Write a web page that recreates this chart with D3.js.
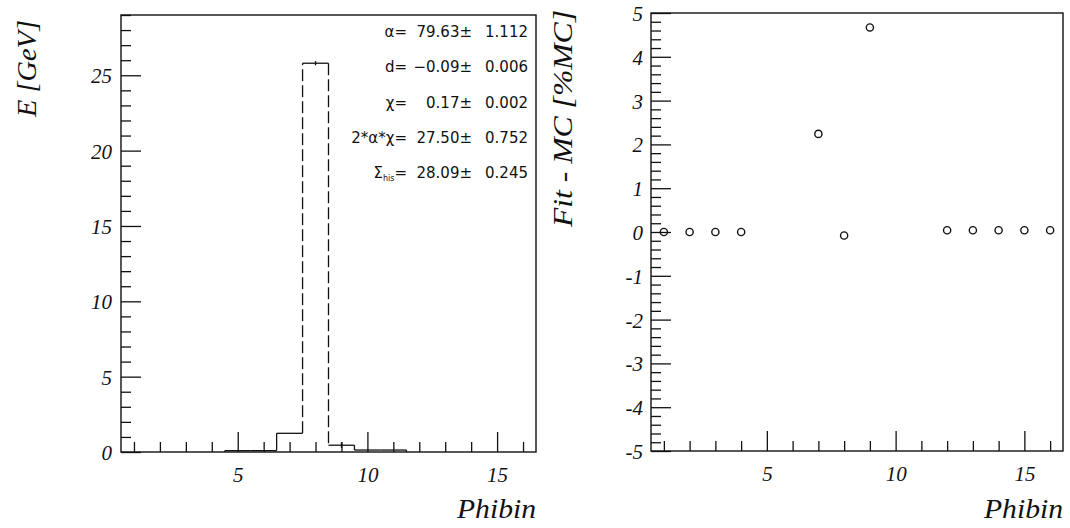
<!DOCTYPE html>
<html>
<head>
<meta charset="utf-8">
<script src="https://cdn.jsdelivr.net/npm/d3@7"></script>
<style>
  html, body { margin: 0; padding: 0; background: #fff; }
  svg { display: block; }
  .serif { font-family: "Liberation Serif", "Times New Roman", Times, serif; font-style: italic; }
</style>
</head>
<body>
<svg id="chart" width="1070" height="528"></svg>
<script>
// ---------------- DATA ----------------
const bins = [1, 2, 3, 4, 5, 6, 7, 8, 9, 10, 11, 12, 13, 14, 15, 16];
const energy = [0, 0, 0, 0, 0.09, 0.09, 1.24, 25.8, 0.45, 0.13, 0.13, 0, 0, 0, 0, 0];
const energyErr = [0, 0, 0, 0, 0, 0, 0, 0.14, 0.18, 0, 0, 0, 0, 0, 0, 0];

const resBins = [1, 2, 3, 4, 7, 8, 9, 12, 13, 14, 15, 16];
const resValues = [0, 0, 0, 0, 2.24, -0.08, 4.67, 0.04, 0.04, 0.04, 0.04, 0.04];

const leftYTicks = [0, 5, 10, 15, 20, 25];
const rightYTicks = [-5, -4, -3, -2, -1, 0, 1, 2, 3, 4, 5];
const xTicks = [5, 10, 15];

const fitLabels = ["α=", "d=", "χ=", "2*α*χ=", "Σ"];
const fitValues = ["79.63±", "−0.09±", "0.17±", "27.50±", "28.09±"];
const fitErrors = ["1.112", "0.006", "0.002", "0.752", "0.245"];

// ---------------- LAYOUT ----------------
const svg = d3.select("#chart");
const ink = "#111";
const sans = "'DejaVu Sans', sans-serif";
const tickFont = 21;

const L = { x0: 121, x1: 536, y0: 15, y1: 452 };
const R = { x0: 651, x1: 1063, y0: 13, y1: 451 };

const xL = d3.scaleLinear().domain([0.5, 16.5]).range([L.x0, L.x1]);
const yL = d3.scaleLinear().domain([0, 29]).range([L.y1, L.y0]);
const xR = d3.scaleLinear().domain([0.5, 16.5]).range([R.x0, R.x1]);
const yR = d3.scaleLinear().domain([-5, 5]).range([R.y1, R.y0]);

function styleAxis(g) {
  g.attr("font-family", null);
  g.select(".domain").remove();
  g.selectAll(".tick line").attr("stroke", ink).attr("stroke-width", 1.3);
  g.selectAll(".tick text")
    .attr("fill", ink)
    .attr("class", "serif")
    .style("font-size", tickFont + "px");
}

function drawAxes(box, x, y, yMajor, yMinorStep, yLabelPad) {
  const [ymin, ymax] = y.domain();
  const yMinor = d3.range(ymin, ymax + 1e-9, yMinorStep).filter(v => !yMajor.some(m => Math.abs(m - v) < 1e-9));
  svg.append("g").attr("transform", `translate(${box.x0},0)`)
    .call(d3.axisLeft(y).tickValues(yMinor).tickSizeInner(-10).tickSizeOuter(0).tickFormat(""))
    .call(styleAxis);
  svg.append("g").attr("transform", `translate(${box.x0},0)`)
    .call(d3.axisLeft(y).tickValues(yMajor).tickSizeInner(-20).tickSizeOuter(0).tickPadding(yLabelPad)
      .tickFormat(d => String(d)))
    .call(styleAxis)
    .call(g => g.selectAll(".tick text").attr("dy", "0.36em"));
  const xMinor = bins.filter(v => !xTicks.includes(v));
  svg.append("g").attr("transform", `translate(0,${box.y1})`)
    .call(d3.axisBottom(x).tickValues(xMinor).tickSizeInner(-10).tickSizeOuter(0).tickFormat(""))
    .call(styleAxis);
  svg.append("g").attr("transform", `translate(0,${box.y1})`)
    .call(d3.axisBottom(x).tickValues(xTicks).tickSizeInner(-20).tickSizeOuter(0).tickPadding(15)
      .tickFormat(d => String(d)))
    .call(styleAxis)
    .call(g => g.selectAll(".tick text").attr("dy", "0.71em"));
  svg.append("rect")
    .attr("x", box.x0).attr("y", box.y0)
    .attr("width", box.x1 - box.x0).attr("height", box.y1 - box.y0)
    .attr("fill", "none").attr("stroke", ink).attr("stroke-width", 1.4);
}

drawAxes(L, xL, yL, leftYTicks, 1, 9);
drawAxes(R, xR, yR, rightYTicks, 0.2, 8);

// ---------------- LEFT: histogram ----------------
const hist = svg.append("g");
bins.forEach((b, i) => {
  if (energy[i] > 0) {
    hist.append("line")
      .attr("x1", xL(b - 0.5)).attr("x2", xL(b + 0.5))
      .attr("y1", yL(energy[i])).attr("y2", yL(energy[i]))
      .attr("stroke", ink).attr("stroke-width", 1.3);
  }
  if (energyErr[i] > 0) {
    hist.append("line")
      .attr("x1", xL(b)).attr("x2", xL(b))
      .attr("y1", yL(energy[i] - energyErr[i])).attr("y2", yL(energy[i] + energyErr[i]))
      .attr("stroke", ink).attr("stroke-width", 1.3);
  }
});
for (let i = 0; i <= bins.length; i++) {
  const a = i > 0 ? energy[i - 1] : 0;
  const c = i < bins.length ? energy[i] : 0;
  if (Math.abs(a - c) < 1e-9) continue;
  const xe = xL(i + 0.5);
  const big = Math.abs(yL(a) - yL(c)) > 30;
  hist.append("line")
    .attr("x1", xe).attr("x2", xe)
    .attr("y1", yL(a)).attr("y2", yL(c))
    .attr("stroke", ink).attr("stroke-width", 1.3)
    .attr("stroke-dasharray", big ? "12,4" : null);
}

// fit parameter text box
const tb = svg.append("g").style("font-family", sans).style("font-size", "15px").attr("fill", ink);
const baseY = 37, stepY = 35.3;
fitLabels.forEach((lab, i) => {
  const yy = baseY + i * stepY;
  const t = tb.append("text").attr("x", 407).attr("y", yy).attr("text-anchor", "end");
  if (lab === "Σ") {
    t.append("tspan").text("Σ");
    t.append("tspan").attr("dy", 3).style("font-size", "8px").text("his");
    t.append("tspan").attr("dy", -3).text("=");
  } else {
    t.text(lab);
  }
  tb.append("text").attr("x", 472).attr("y", yy).attr("text-anchor", "end").text(fitValues[i]);
  tb.append("text").attr("x", 528).attr("y", yy).attr("text-anchor", "end").text(fitErrors[i]);
});

// ---------------- RIGHT: residual points ----------------
svg.append("g").selectAll("circle")
  .data(resBins.map((b, i) => ({ b, v: resValues[i] })))
  .join("circle")
  .attr("cx", d => xR(d.b)).attr("cy", d => yR(d.v))
  .attr("r", 3.6)
  .attr("fill", "none").attr("stroke", ink).attr("stroke-width", 1.4);

// ---------------- AXIS TITLES ----------------
function title(x, y, txt, rotate, anchor, len) {
  const t = svg.append("text")
    .attr("class", "serif")
    .attr("transform", `translate(${x},${y})` + (rotate ? " rotate(-90)" : ""))
    .attr("text-anchor", anchor)
    .attr("fill", ink)
    .style("font-size", "27px")
    .text(txt);
  if (len) t.attr("textLength", len).attr("lengthAdjust", "spacingAndGlyphs");
}
title(36, 68.5, "E [GeV]", true, "middle", 97);
title(572, 118.5, "Fit - MC [%MC]", true, "middle", 217);
title(536, 518, "Phibin", false, "end", 79);
title(1063, 518, "Phibin", false, "end", 79);
</script>
</body>
</html>
